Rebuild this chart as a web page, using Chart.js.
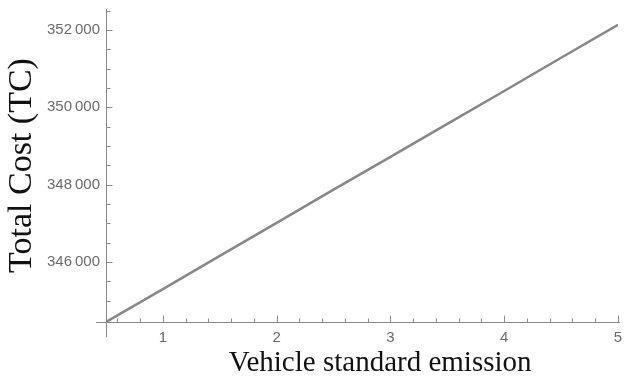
<!DOCTYPE html>
<html><head><meta charset="utf-8">
<script src="https://cdn.jsdelivr.net/npm/chart.js@4/dist/chart.umd.min.js"></script>
<style>html,body{margin:0;padding:0;background:#fff}#wrap{width:625px;height:381px}</style>
</head><body><div id="wrap"><canvas id="c"></canvas></div>
<script>
const emission = [0.5, 1, 1.5, 2, 2.5, 3, 3.5, 4, 4.5, 5];
const totalCost = [344450, 345300, 346160, 347010, 347870, 348720, 349570, 350420, 351280, 352130];
const xMajorTicks = [1, 2, 3, 4, 5];
const yMajorTicks = [346000, 348000, 350000, 352000];
const xMinorStep = 0.2;
const yMinorStep = 500;
const xTitle = 'Vehicle standard emission';
const yTitle = 'Total Cost (TC)';

function buildTicks(scale, step, majors) {
  const out = [];
  const start = Math.ceil((scale.min + 1e-9) / step);
  for (let k = start; k * step <= scale.max + 1e-9; k++) {
    const v = +(k * step).toFixed(6);
    if (v <= scale.min + 1e-9) continue;
    out.push({value: v, major: majors.some(m => Math.abs(m - v) < 1e-6)});
  }
  scale.ticks = out;
}

const axisColor = '#8a8a8a';
const axesPlugin = {
  id: 'mmaAxes',
  beforeDatasetsDraw(chart) {
    const ctx = chart.ctx, xs = chart.scales.x, ys = chart.scales.y, ca = chart.chartArea;
    ctx.save();
    ctx.strokeStyle = axisColor; ctx.lineWidth = 1;
    const y0 = Math.round(ca.bottom) + 0.5, x0 = Math.round(ca.left) + 0.5;
    ctx.beginPath();
    ctx.moveTo(ca.left - 10, y0); ctx.lineTo(ca.right + 2, y0);
    ctx.moveTo(x0, ca.top); ctx.lineTo(x0, ca.bottom + 15);
    ctx.stroke();
    ctx.beginPath();
    xs.ticks.forEach(t => {
      const px = Math.round(xs.getPixelForValue(t.value)) + 0.5;
      ctx.moveTo(px, y0); ctx.lineTo(px, y0 - (t.major ? 7 : 4));
    });
    ys.ticks.forEach(t => {
      const py = Math.round(ys.getPixelForValue(t.value)) + 0.5;
      ctx.moveTo(x0, py); ctx.lineTo(x0 + (t.major ? 6 : 4), py);
    });
    ctx.stroke();
    ctx.restore();
  }
};

new Chart(document.getElementById('c'), {
  type: 'line',
  data: {
    datasets: [{
      data: emission.map((x, i) => ({x, y: totalCost[i]})),
      borderColor: '#878787', borderWidth: 2.5, pointRadius: 0, tension: 0, fill: false
    }]
  },
  options: {
    responsive: true, maintainAspectRatio: false, animation: false,
    layout: {padding: {top: 9, right: 7, left: 0, bottom: 0}},
    plugins: {legend: {display: false}, tooltip: {enabled: false}},
    scales: {
      x: {
        type: 'linear', min: 0.5, max: 5,
        grid: {display: false, drawTicks: false}, border: {display: false},
        afterBuildTicks: s => buildTicks(s, xMinorStep, xMajorTicks),
        ticks: {
          autoSkip: false, maxRotation: 0, padding: 7,
          color: '#6b6b6b', font: {family: "'Liberation Sans', Arial, sans-serif", size: 15},
          callback: (v, i, ticks) => ticks[i].major ? String(Math.round(v)) : ''
        },
        title: {display: true, text: '     ' + xTitle, align: 'center', color: '#111',
          font: {family: "'Liberation Serif', 'Times New Roman', serif", size: 29}, padding: {top: -12, bottom: 0}},
        afterFit: s => { s.height = 59; s.paddingLeft = 0; s.paddingRight = 0; }
      },
      y: {
        type: 'linear', min: 344450, max: 352540,
        grid: {display: false, drawTicks: false}, border: {display: false},
        afterBuildTicks: s => buildTicks(s, yMinorStep, yMajorTicks),
        ticks: {
          autoSkip: false, padding: 6,
          color: '#6b6b6b', font: {family: "'Liberation Sans', Arial, sans-serif", size: 15},
          callback: (v, i, ticks) => ticks[i].major ? String(v).slice(0, 3) + '\u2009' + String(v).slice(3) : ''
        },
        title: {display: true, text: yTitle, color: '#111',
          font: {family: "'Liberation Serif', 'Times New Roman', serif", size: 34}, padding: {top: 2, bottom: 0}},
        afterFit: s => { s.width = 106; s.paddingTop = 0; s.paddingBottom = 0; }
      }
    }
  },
  plugins: [axesPlugin]
});
</script></body></html>
